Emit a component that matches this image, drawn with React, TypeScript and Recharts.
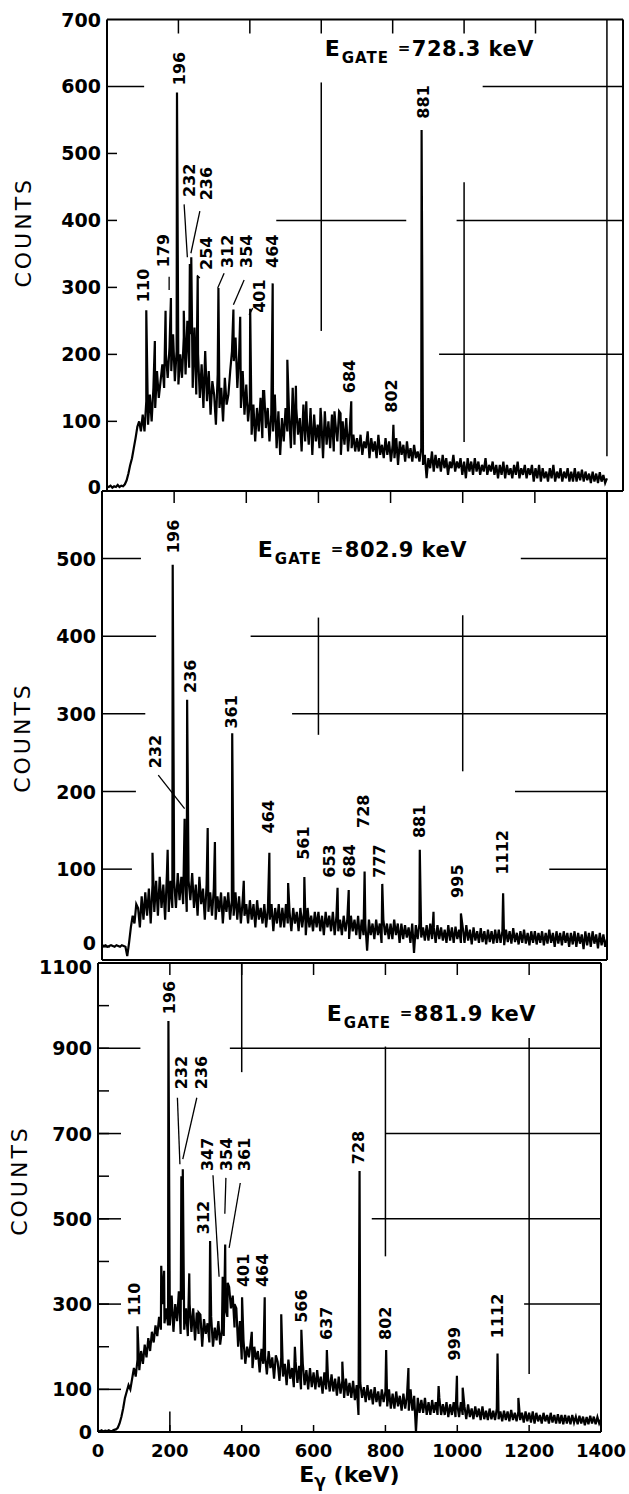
import React from 'react';
import { LineChart, Line, XAxis, YAxis, ReferenceLine, ReferenceDot } from 'recharts';

// gamma-gamma coincidence spectra, one channel every 5 keV from 0 to 1400 keV
const STEP = 5;
const FONT = 'DejaVu Sans, Verdana, sans-serif';
const X_TICKS = [0, 200, 400, 600, 800, 1000, 1200, 1400];
const INNER_X_TICKS = [200, 400, 600, 800, 1000, 1200];

// ---- gate 728.3 keV ----
const bg1 = [
  3, 2, 4, 1, 3, 2, 5, 2, 4, 3, 6, 12, 22, 35, 45, 60, 75, 92, 100, 85,
  110, 85, 130, 95, 140, 100, 150, 120, 175, 135, 160, 185, 150, 200, 165, 210, 175, 230, 160, 205,
  155, 200, 165, 225, 170, 250, 180, 230, 150, 240, 140, 200, 135, 185, 120, 205, 130, 175, 110, 160,
  140, 95, 170, 120, 150, 100, 165, 125, 140, 175, 205, 190, 225, 150, 200, 120, 175, 110, 155, 100,
  130, 80, 125, 70, 120, 85, 135, 75, 145, 90, 120, 70, 110, 85, 140, 60, 115, 50, 105, 70,
  120, 85, 110, 60, 150, 65, 120, 80, 105, 55, 125, 70, 100, 65, 120, 50, 110, 70, 95, 60,
  105, 45, 115, 65, 100, 60, 110, 55, 95, 70, 115, 50, 100, 65, 105, 55, 90, 60, 80, 55,
  75, 55, 80, 50, 70, 60, 85, 45, 75, 55, 70, 45, 80, 50, 65, 45, 75, 50, 70, 40,
  65, 45, 75, 35, 70, 50, 65, 40, 70, 45, 60, 40, 65, 45, 55, 40, 60, 35, 50, 15,
  45, 30, 55, 25, 50, 30, 45, 25, 50, 30, 45, 20, 40, 30, 50, 25, 40, 30, 45, 20,
  40, 15, 45, 25, 40, 20, 45, 25, 40, 20, 35, 25, 45, 20, 35, 25, 40, 20, 35, 15,
  35, 20, 40, 15, 35, 20, 30, 15, 35, 20, 40, 15, 30, 20, 35, 15, 30, 20, 35, 10,
  30, 15, 35, 10, 30, 15, 25, 10, 30, 15, 35, 10, 25, 15, 30, 10, 25, 15, 30, 10,
  25, 10, 30, 10, 25, 12, 28, 10, 25, 12, 22, 8, 25, 10, 22, 8, 24, 10, 20, 8,
  15,
];
const peaks1: [number, number][] = [
  [110, 266], [134, 220], [164, 265], [179, 284], [196, 591], [215, 265], [232, 335], [236, 345],
  [254, 317], [312, 299], [354, 267], [373, 256], [401, 268], [437, 145], [464, 306], [505, 192],
  [529, 153], [558, 130], [598, 120], [637, 115], [654, 112], [684, 130], [802, 95], [881, 535],
];
const labels1: [string, number, number][] = [
  ['110', 102, 278], ['179', 157, 330], ['196', 202, 602], ['232', 230, 435], ['236', 280, 430],
  ['254', 280, 326], ['312', 338, 329], ['354', 391, 329], ['401', 428, 262], ['464', 464, 329],
  ['684', 680, 142], ['802', 798, 113], ['881', 885, 552],
];
const leaders1: [number, number, number, number][] = [
  [174, 296, 174, 316], [216, 424, 225, 345], [260, 414, 235, 351], [252, 318, 260, 314],
  [328, 321, 310, 299], [384, 311, 354, 274], [408, 269, 398, 259],
];
const grid1: [number, number, number, number][] = [
  [0, 600, 104, 600], [1052, 600, 1445, 600], [474, 400, 838, 400], [979, 400, 1445, 400],
  [930, 200, 1445, 200], [600, 235, 600, 606], [1000, 69, 1000, 457], [1400, 48, 1400, 700],
];

// ---- gate 802.9 keV ----
const bg2 = [
  2, 1, 2, 0, 1, 2, 1, 0, 2, 1, 0, 2, 1, 0, -12, 5, 25, 40, 30, 55,
  50, 25, 65, 35, 70, 40, 75, 30, 80, 45, 85, 40, 90, 50, 80, 35, 95, 45, 85, 50,
  85, 50, 95, 60, 90, 55, 100, 45, 85, 60, 95, 50, 80, 40, 90, 55, 75, 35, 80, 45,
  70, 40, 75, 35, 65, 45, 70, 30, 65, 45, 70, 35, 60, 40, 70, 35, 65, 30, 60, 40,
  55, 30, 60, 35, 55, 25, 60, 35, 50, 30, 55, 25, 50, 35, 55, 20, 50, 30, 55, 25,
  50, 25, 55, 30, 45, 20, 50, 30, 45, 20, 50, 25, 45, 15, 50, 25, 40, 20, 45, 25,
  45, 20, 40, 15, 45, 25, 40, 20, 45, 15, 40, 20, 35, 15, 40, 20, 35, 10, 40, 20,
  35, 15, 40, 10, 35, 15, 30, -5, 35, 15, 30, 10, 35, 15, 30, 5, 35, 15, 30, 10,
  30, 10, 35, 15, 30, 5, 30, 10, 28, 12, 25, 5, 30, -8, 28, 10, 30, 12, 25, 8,
  28, 8, 30, 10, 25, 5, 28, 10, 25, 8, 22, 5, 28, 8, 25, 5, 26, 10, 22, 5,
  25, 5, 28, 8, 22, 3, 25, 8, 20, 5, 24, 6, 20, 3, 22, 6, 20, 4, 22, 5,
  22, 5, 20, 2, 22, 6, 20, 4, 24, 6, 18, 3, 20, 5, 22, 4, 18, 2, 20, 5,
  20, 3, 18, 5, 20, 2, 18, 4, 22, 5, 18, 0, 20, 4, 18, 2, 20, 5, 18, 0,
  18, 3, 20, 0, 18, 4, 16, -3, 20, 2, 18, 0, 20, 4, 16, -2, 18, 2, 16, 0,
  10,
];
const peaks2: [number, number][] = [
  [140, 121], [182, 125], [196, 492], [229, 165], [236, 318], [293, 153], [313, 135], [361, 275],
  [393, 85], [464, 121], [516, 82], [561, 90], [653, 76], [684, 73], [728, 97], [777, 81],
  [881, 125], [919, 45], [995, 43], [1112, 69],
];
const labels2: [string, number, number][] = [
  ['196', 198, 507], ['232', 147, 230], ['236', 244, 327], ['361', 360, 281], ['464', 461, 146],
  ['561', 560, 112], ['653', 630, 89], ['684', 686, 89], ['728', 725, 153], ['777', 769, 89],
  ['881', 881, 140], ['995', 985, 63], ['1112', 1110, 93],
];
const leaders2: [number, number, number, number][] = [[156, 221, 229, 178]];
const grid2: [number, number, number, number][] = [
  [0, 500, 108, 500], [1161, 500, 1400, 500], [0, 400, 150, 400], [412, 400, 1400, 400],
  [0, 300, 120, 300], [527, 300, 1400, 300], [0, 200, 94, 200], [1145, 200, 1400, 200],
  [0, 100, 83, 100], [1240, 100, 1400, 100], [600, 273, 600, 424], [1000, 226, 1000, 427],
];

// ---- gate 881.9 keV ----
const bg3 = [
  3, 2, 4, 1, 3, 2, 4, 2, 3, 5, 6, 10, 20, 35, 55, 80, 95, 110, 100, 125,
  150, 130, 170, 145, 190, 160, 205, 175, 220, 190, 235, 210, 250, 225, 270, 240, 300, 255, 290, 250,
  250, 320, 235, 300, 260, 330, 230, 310, 240, 290, 225, 300, 235, 290, 215, 280, 230, 275, 200, 265,
  230, 255, 210, 270, 200, 245, 215, 260, 205, 240, 225, 290, 270, 340, 290, 320, 245, 290, 200, 260,
  170, 215, 160, 200, 175, 210, 150, 200, 170, 190, 140, 195, 160, 180, 135, 190, 150, 175, 125, 180,
  165, 120, 175, 130, 160, 110, 170, 125, 150, 105, 165, 115, 155, 100, 160, 110, 145, 100, 150, 105,
  140, 100, 145, 105, 130, 90, 140, 100, 130, 95, 135, 95, 125, 85, 130, 90, 120, 80, 125, 85,
  115, 80, 120, 75, 110, 40, 115, 80, 105, 70, 110, 75, 100, 65, 105, 70, 95, 60, 100, 70,
  95, 60, 100, 55, 90, 55, 95, 60, 85, 50, 90, 55, 85, 50, 100, 50, 85, 0, 80, 45,
  75, 45, 80, 40, 70, 40, 75, 45, 70, 40, 80, 40, 65, 40, 70, 35, 65, 40, 70, 35,
  65, 35, 70, 40, 60, 30, 65, 35, 55, 30, 60, 35, 55, 28, 60, 30, 50, 28, 55, 30,
  50, 28, 55, 30, 48, 25, 50, 28, 48, 25, 52, 28, 45, 25, 48, 28, 45, 22, 48, 25,
  45, 22, 48, 20, 45, 25, 40, 20, 45, 25, 40, 20, 45, 22, 40, 20, 42, 20, 40, 18,
  40, 20, 38, 18, 40, 22, 36, 18, 38, 20, 36, 16, 35, 18, 38, 20, 36, 18, 35, 20,
  30,
];
const peaks3: [number, number][] = [
  [110, 248], [176, 390], [184, 378], [196, 964], [232, 600], [236, 616], [254, 372], [280, 280],
  [312, 448], [347, 364], [354, 440], [361, 350], [380, 300], [401, 316], [428, 235], [464, 316],
  [510, 276], [548, 200], [566, 240], [637, 192], [680, 165], [728, 612], [802, 192], [864, 150],
  [948, 108], [999, 132], [1015, 104], [1112, 184], [1170, 80],
];
const labels3: [string, number, number][] = [
  ['110', 101, 272], ['196', 199, 980], ['232', 232, 804], ['236', 288, 804], ['312', 294, 464],
  ['347', 305, 612], ['354', 357, 612], ['361', 407, 612], ['401', 404, 340], ['464', 458, 340],
  ['566', 567, 256], ['637', 637, 216], ['728', 724, 628], ['802', 800, 216], ['999', 993, 168],
  ['1112', 1111, 220],
];
const leaders3: [number, number, number, number][] = [
  [221, 784, 228, 628], [275, 784, 236, 640], [320, 602, 337, 364], [356, 596, 353, 512],
  [396, 584, 365, 432],
];
const grid3: [number, number, number, number][] = [
  [0, 900, 118, 900], [367, 900, 1400, 900], [0, 700, 64, 700], [799, 700, 1400, 700],
  [0, 500, 64, 500], [762, 500, 1400, 500], [0, 300, 64, 300], [1186, 300, 1400, 300],
  [0, 100, 64, 100], [400, 844, 400, 1100], [800, 412, 800, 904], [1200, 136, 1200, 924],
  [200, 0, 200, 48],
];

function buildSeries(bg: number[], peaks: [number, number][]) {
  const pts = bg.map((c, i) => ({ e: i * STEP, c }));
  peaks.forEach(([e, c]) => pts.push({ e, c }));
  return pts.sort((a, b) => a.e - b.e);
}

const peakLabel = (text: string) => (p: any) => (
  <text
    x={p.cx}
    y={p.cy}
    transform={`rotate(-90 ${p.cx} ${p.cy})`}
    dominantBaseline="central"
    fontFamily={FONT}
    fontWeight="bold"
    fontSize={16}
    fill="#000"
  >
    {text}
  </text>
);

const gateLabel = (value: string) => (p: any) => (
  <g fontFamily={FONT} fontWeight="bold" fill="#000">
    <text x={p.cx} y={p.cy} fontSize={22}>E</text>
    <text x={p.cx + 17} y={p.cy + 7} fontSize={15} letterSpacing={1}>GATE</text>
    <text x={p.cx + 73} y={p.cy - 3} fontSize={15}>=</text>
    <text x={p.cx + 87} y={p.cy} fontSize={21} letterSpacing={0.5}>{value}</text>
  </g>
);

const countsLabel = (cx: number, dy: number) => (p: any) => {
  const vb = p.viewBox;
  const cy = vb.y + vb.height / 2 + dy;
  return (
    <text
      x={cx}
      y={cy}
      transform={`rotate(-90 ${cx} ${cy})`}
      textAnchor="middle"
      dominantBaseline="central"
      fontFamily={FONT}
      fontSize={22}
      letterSpacing={3}
      fill="#000"
    >
      COUNTS
    </text>
  );
};

const energyLabel = (p: any) => {
  const vb = p.viewBox;
  return (
    <text x={vb.x + vb.width / 2} y={vb.y + 50} textAnchor="middle" fontFamily={FONT} fontWeight="bold" fontSize={22} fill="#000">
      <tspan>E</tspan>
      <tspan fontSize={17} dy={5}>γ</tspan>
      <tspan dy={-5}> (keV)</tspan>
    </text>
  );
};

// y tick labels; a few are nudged where two panels meet
const yTickLabel = (nudge: Record<number, number>) => (p: any) => (
  <text
    x={p.x}
    y={p.y + (nudge[p.payload.value] || 0)}
    textAnchor="end"
    dominantBaseline="central"
    fontFamily={FONT}
    fontWeight="bold"
    fontSize={19}
    fill="#000"
  >
    {p.payload.value}
  </text>
);

const blackLine = { stroke: '#000', strokeWidth: 1.5 };
const frame = { stroke: '#000', strokeWidth: 2 };
const tickFont = { fill: '#000', fontSize: 18, fontFamily: FONT, fontWeight: 'bold' };
const blank = () => '';

type PanelProps = {
  top: number;
  height: number;
  margin: { top: number; right: number; bottom: number; left: number };
  xMax: number;
  yDomain: [number, number];
  yLabels: number[];
  yNudge: Record<number, number>;
  yTicks: number[];
  yTickSize: number;
  topTickSize: number;
  bottomTicks: number[];
  bottomTickSize: number;
  bg: number[];
  peaks: [number, number][];
  labels: [string, number, number][];
  leaders: [number, number, number, number][];
  grid: [number, number, number, number][];
  gate: [string, number, number];
  counts: [number, number];
  showX: boolean;
};

function Panel(props: PanelProps) {
  const data = buildSeries(props.bg, props.peaks);
  const [gateText, gateX, gateY] = props.gate;
  return (
    <div style={{ position: 'absolute', left: 0, top: props.top }}>
      <LineChart width={629} height={props.height} data={data} margin={props.margin}>
        <XAxis
          dataKey="e"
          type="number"
          domain={[0, props.xMax]}
          allowDataOverflow
          ticks={props.bottomTicks}
          mirror
          stroke="#000"
          tickSize={props.bottomTickSize}
          tickLine={props.bottomTicks.length ? blackLine : false}
          tickFormatter={blank}
          axisLine={frame}
        />
        <XAxis
          xAxisId="top"
          orientation="top"
          dataKey="e"
          type="number"
          domain={[0, props.xMax]}
          allowDataOverflow
          ticks={INNER_X_TICKS}
          mirror
          stroke="#000"
          tickSize={props.topTickSize}
          tickLine={blackLine}
          tickFormatter={blank}
          axisLine={frame}
        />
        {props.showX && (
          <XAxis
            xAxisId="lx"
            dataKey="e"
            type="number"
            domain={[0, props.xMax]}
            allowDataOverflow
            ticks={X_TICKS}
            height={50}
            axisLine={false}
            tickLine={false}
            tickSize={0}
            tickMargin={12}
            tick={tickFont}
            label={energyLabel}
          />
        )}
        <YAxis
          type="number"
          domain={props.yDomain}
          allowDataOverflow
          ticks={props.yTicks}
          mirror
          stroke="#000"
          tickSize={props.yTickSize}
          tickLine={blackLine}
          tickFormatter={blank}
          axisLine={frame}
        />
        <YAxis
          yAxisId="ly"
          type="number"
          domain={props.yDomain}
          allowDataOverflow
          ticks={props.yLabels}
          width={60}
          axisLine={false}
          tickLine={false}
          tickSize={0}
          tickMargin={6}
          tick={yTickLabel(props.yNudge)}
          label={countsLabel(props.counts[0], props.counts[1])}
        />
        <ReferenceLine x={props.xMax} stroke="#000" strokeWidth={2} ifOverflow="visible" />
        {props.grid.map(([x1, y1, x2, y2], i) => (
          <ReferenceLine
            key={'g' + i}
            segment={[{ x: x1, y: y1 }, { x: x2, y: y2 }]}
            stroke="#000"
            strokeWidth={1.5}
            ifOverflow="visible"
          />
        ))}
        {props.leaders.map(([x1, y1, x2, y2], i) => (
          <ReferenceLine
            key={'l' + i}
            segment={[{ x: x1, y: y1 }, { x: x2, y: y2 }]}
            stroke="#000"
            strokeWidth={1.3}
            ifOverflow="visible"
          />
        ))}
        <Line
          type="linear"
          dataKey="c"
          stroke="#000"
          strokeWidth={2.2}
          strokeLinejoin="miter"
          dot={false}
          isAnimationActive={false}
        />
        {props.labels.map(([text, x, y]) => (
          <ReferenceDot key={'p' + text} x={x} y={y} r={1} ifOverflow="visible" shape={peakLabel(text)} />
        ))}
        <ReferenceDot x={gateX} y={gateY} r={1} ifOverflow="visible" shape={gateLabel(gateText)} />
      </LineChart>
    </div>
  );
}

export default function App() {
  return (
    <div style={{ position: 'absolute', left: 0, top: 0, width: 629, height: 1494, background: '#fff' }}>
      <Panel
        top={0}
        height={500}
        margin={{ top: 19.5, right: 6, bottom: 9, left: 47 }}
        xMax={1445}
        yDomain={[-4, 700]}
        yLabels={[0, 100, 200, 300, 400, 500, 600, 700]}
        yNudge={{ 0: -1 }}
        yTicks={[100, 200, 300, 400, 500]}
        yTickSize={10}
        topTickSize={14}
        bottomTicks={[]}
        bottomTickSize={0}
        bg={bg1}
        peaks={peaks1}
        labels={labels1}
        leaders={leaders1}
        grid={grid1}
        gate={['728.3 keV', 610, 645]}
        counts={[23, -23]}
        showX={false}
      />
      <Panel
        top={470}
        height={500}
        margin={{ top: 21, right: 22, bottom: 10, left: 42 }}
        xMax={1400}
        yDomain={[-17, 587]}
        yLabels={[0, 100, 200, 300, 400, 500]}
        yNudge={{ 0: -4 }}
        yTicks={[0]}
        yTickSize={8}
        topTickSize={12}
        bottomTicks={[]}
        bottomTickSize={0}
        bg={bg2}
        peaks={peaks2}
        labels={labels2}
        leaders={leaders2}
        grid={grid2}
        gate={['802.9 keV', 432, 502]}
        counts={[22, 12]}
        showX={false}
      />
      <Panel
        top={940}
        height={554}
        margin={{ top: 23, right: 28, bottom: 12, left: 38 }}
        xMax={1400}
        yDomain={[0, 1100]}
        yLabels={[0, 100, 300, 500, 700, 900, 1100]}
        yNudge={{ 1100: 4 }}
        yTicks={[100, 200, 300, 400, 500, 600, 700, 800, 900, 1000]}
        yTickSize={11}
        topTickSize={12}
        bottomTicks={INNER_X_TICKS}
        bottomTickSize={7}
        bg={bg3}
        peaks={peaks3}
        labels={labels3}
        leaders={leaders3}
        grid={grid3}
        gate={['881.9 keV', 637, 964]}
        counts={[19, -17]}
        showX={true}
      />
    </div>
  );
}
